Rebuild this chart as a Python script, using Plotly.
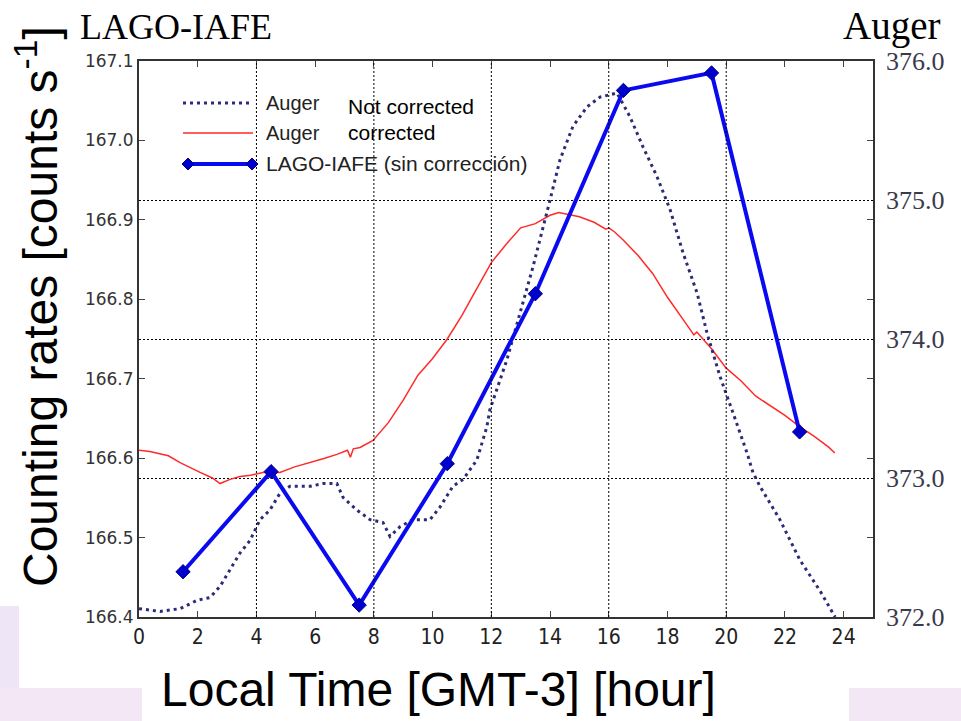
import plotly.graph_objects as go

# ---------------- data ----------------
lago_hours = [1.5, 4.5, 7.5, 10.5, 13.5, 16.5, 19.5, 22.5]
lago_rates = [166.457, 166.583, 166.415, 166.593, 166.807, 167.063, 167.085, 166.633]

corr_hours = [0.0, 0.37, 1.0, 1.4, 2.08, 2.5, 2.76, 3.1, 3.44, 3.8, 4.22, 4.8, 5.3, 5.82,
              6.3, 6.74, 7.1, 7.2, 7.3, 7.53, 7.97, 8.5, 9.0, 9.5, 10.0, 10.5, 11.0, 11.5,
              12.0, 12.5, 13.0, 13.5, 14.0, 14.3, 14.5, 15.0, 15.5, 15.9, 16.0, 16.2, 16.5,
              17.0, 17.5, 18.0, 18.5, 18.9, 19.0, 19.5, 20.0, 20.5, 21.0, 21.5, 22.0, 22.5,
              23.0, 23.5, 23.7]
corr_rates = [373.20, 373.19, 373.16, 373.11, 373.04, 373.00, 372.96, 372.99, 373.01, 373.02,
              373.04, 373.04, 373.08, 373.11, 373.14, 373.17, 373.20, 373.15, 373.21, 373.22,
              373.27, 373.40, 373.56, 373.74, 373.86, 374.00, 374.17, 374.36, 374.55, 374.68,
              374.80, 374.83, 374.89, 374.91, 374.90, 374.88, 374.84, 374.79, 374.80, 374.77,
              374.71, 374.60, 374.47, 374.30, 374.15, 374.03, 374.05, 373.93, 373.79, 373.70,
              373.59, 373.52, 373.45, 373.37, 373.30, 373.22, 373.18]

nc_hours = [0.0, 0.72, 1.40, 1.98, 2.42, 2.76, 3.10, 3.44, 3.78, 4.12, 4.46, 4.80, 5.14,
            5.82, 6.27, 6.74, 6.95, 7.42, 7.87, 8.31, 8.55, 8.89, 9.33, 9.91, 10.25, 10.69,
            11.04, 11.51, 11.85, 11.95, 12.53, 12.98, 13.42, 14.00, 14.34, 14.78, 15.26,
            15.70, 16.28, 16.72, 17.17, 17.64, 18.09, 18.53, 19.01, 19.35, 19.79, 20.23,
            20.71, 20.91, 21.15, 21.83, 22.51, 23.19, 23.71]
nc_rates = [372.06, 372.04, 372.06, 372.12, 372.14, 372.22, 372.34, 372.46, 372.55, 372.70,
            372.77, 372.89, 372.94, 372.94, 372.96, 372.96, 372.86, 372.77, 372.70, 372.68,
            372.58, 372.65, 372.70, 372.70, 372.79, 372.94, 372.99, 373.13, 373.37, 373.49,
            373.85, 374.19, 374.52, 375.00, 375.29, 375.53, 375.67, 375.74, 375.77, 375.60,
            375.38, 375.17, 374.93, 374.62, 374.33, 374.04, 373.73, 373.47, 373.18, 373.04,
            372.94, 372.70, 372.41, 372.19, 372.00]

x_ticks = list(range(0, 25, 2))
x_grid = [4, 8, 12, 16, 20]
left_ticks = [166.4, 166.5, 166.6, 166.7, 166.8, 166.9, 167.0, 167.1]
right_ticks = [372, 373, 374, 375, 376]
right_labels = ["372.0", "373.0", "374.0", "375.0", "376.0"]

# ---------------- layout helpers (pixel -> paper) ----------------
L, R, T, B = 139, 873, 61, 617
W, H = 961, 721


def px(x):
    return (x - L) / (R - L)


def py(y):
    return (B - y) / (B - T)


NAVY = "#2b2b7a"
RED = "#ff2a2a"
BLUE = "#0a0af0"
DOT = "3px,4px"
GRID_DASH = "2px,2px"

fig = go.Figure()

fig.add_trace(go.Scatter(x=corr_hours, y=corr_rates, mode="lines", xaxis="x", yaxis="y",
                         line=dict(color=RED, width=1.5), showlegend=False, hoverinfo="skip"))
fig.add_trace(go.Scatter(x=nc_hours, y=nc_rates, mode="lines", xaxis="x", yaxis="y",
                         line=dict(color=NAVY, width=3, dash=DOT), showlegend=False, hoverinfo="skip"))
fig.add_trace(go.Scatter(x=lago_hours, y=lago_rates, mode="lines+markers", xaxis="x", yaxis="y2",
                         line=dict(color=BLUE, width=4),
                         marker=dict(symbol="diamond", size=11, color="#0000cc",
                                     line=dict(color="#00008a", width=1)),
                         showlegend=False, hoverinfo="skip"))

shapes = []
# vertical dotted grid lines
for gx in x_grid:
    shapes.append(dict(type="line", xref="x", yref="paper", x0=gx, x1=gx, y0=0, y1=1,
                       line=dict(color="black", width=1, dash=GRID_DASH), layer="above"))

# manual legend
shapes.append(dict(type="line", xref="paper", yref="paper", x0=px(183), x1=px(253),
                   y0=py(103), y1=py(103), line=dict(color=NAVY, width=3, dash=DOT)))
shapes.append(dict(type="line", xref="paper", yref="paper", x0=px(183), x1=px(253),
                   y0=py(133), y1=py(133), line=dict(color=RED, width=1.5)))
shapes.append(dict(type="line", xref="paper", yref="paper", x0=px(188), x1=px(252),
                   y0=py(164), y1=py(164), line=dict(color=BLUE, width=4)))
for cx in (188, 252):
    d = 6
    path = "M {a},{b} L {c},{d_} L {e},{f} L {g},{h} Z".format(
        a=px(cx - d), b=py(164), c=px(cx), d_=py(164 - d), e=px(cx + d), f=py(164),
        g=px(cx), h=py(164 + d))
    shapes.append(dict(type="path", xref="paper", yref="paper", path=path,
                       fillcolor="#0000cc", line=dict(color="#00008a", width=1)))

# pale background patches at the bottom of the picture
PATCH = "#f3e6f5"
shapes.append(dict(type="rect", xref="paper", yref="paper", x0=px(0), x1=px(19),
                   y0=py(688), y1=py(606), fillcolor="#eee6f6", line=dict(width=0), layer="below"))
shapes.append(dict(type="rect", xref="paper", yref="paper", x0=px(0), x1=px(142),
                   y0=py(721), y1=py(688), fillcolor=PATCH, line=dict(width=0), layer="below"))
shapes.append(dict(type="rect", xref="paper", yref="paper", x0=px(849), x1=px(961),
                   y0=py(721), y1=py(688), fillcolor=PATCH, line=dict(width=0), layer="below"))

SANS = "Liberation Sans, Arial, sans-serif"
SERIF = "Liberation Serif, Times New Roman, serif"

annotations = [
    dict(text="Auger", x=px(264), y=py(103), xref="paper", yref="paper", xanchor="left",
         yanchor="middle", showarrow=False, font=dict(family=SANS, size=20, color="#222")),
    dict(text="Auger", x=px(264), y=py(133), xref="paper", yref="paper", xanchor="left",
         yanchor="middle", showarrow=False, font=dict(family=SANS, size=20, color="#222")),
    dict(text="LAGO-IAFE (sin corrección)", x=px(264), y=py(164), xref="paper", yref="paper",
         xanchor="left", yanchor="middle", showarrow=False,
         font=dict(family=SANS, size=21, color="#222")),
    dict(text="Not corrected", x=px(346), y=py(106), xref="paper", yref="paper", xanchor="left",
         yanchor="middle", showarrow=False, font=dict(family=SANS, size=21, color="black")),
    dict(text="corrected", x=px(346), y=py(132), xref="paper", yref="paper", xanchor="left",
         yanchor="middle", showarrow=False, font=dict(family=SANS, size=21, color="black")),
    dict(text="LAGO-IAFE", x=px(78), y=py(27), xref="paper", yref="paper", xanchor="left",
         yanchor="middle", showarrow=False, font=dict(family=SERIF, size=36, color="black")),
    dict(text="Auger", x=px(942), y=py(26), xref="paper", yref="paper", xanchor="right",
         yanchor="middle", showarrow=False, font=dict(family=SERIF, size=39, color="black")),
    dict(text="Counting rates [counts s<sup>-1</sup>]", x=px(37), y=py(307), xref="paper",
         yref="paper", xanchor="center", yanchor="middle", textangle=-90, showarrow=False,
         font=dict(family=SANS, size=48, color="black")),
    dict(text="Local Time [GMT-3] [hour]", x=px(438), y=py(689), xref="paper", yref="paper",
         xanchor="center", yanchor="middle", showarrow=False,
         font=dict(family=SANS, size=48, color="black")),
]

fig.update_layout(
    width=W, height=H,
    margin=dict(l=L, r=W - R, t=T, b=H - B, pad=0),
    paper_bgcolor="white", plot_bgcolor="white",
    showlegend=False,
    xaxis=dict(range=[0, 25], tickvals=x_ticks, ticks="inside", ticklen=6, tickwidth=1,
               tickcolor="#444", showline=True, linecolor="#333", linewidth=2, mirror="ticks",
               showgrid=False, zeroline=False,
               tickfont=dict(family="DejaVu Sans Condensed, DejaVu Sans, sans-serif", size=21,
                             color="#222")),
    yaxis=dict(range=[372, 376], tickvals=right_ticks, ticktext=right_labels, side="right",
               ticks="", showline=False, showgrid=True, gridcolor="black", gridwidth=1,
               griddash=GRID_DASH, zeroline=False, ticklabelstandoff=12,
               tickfont=dict(family=SERIF, size=26, color="#3a3a4c")),
    yaxis2=dict(range=[166.4, 167.1], tickvals=left_ticks, tickformat=".1f", side="left",
                overlaying="y", anchor="x", ticks="inside", ticklen=6, tickwidth=1,
                tickcolor="#444", showline=True, linecolor="#333", linewidth=2,
                mirror="ticks", showgrid=False, zeroline=False,
                tickfont=dict(family="DejaVu Sans, sans-serif", size=17, color="#333")),
    shapes=shapes,
    annotations=annotations,
)

fig.write_html("out.html")
